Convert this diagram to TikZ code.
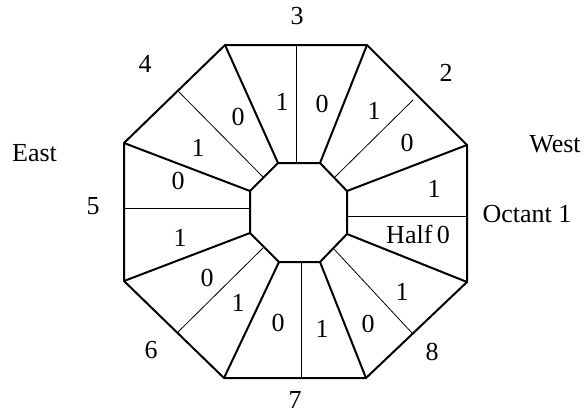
\documentclass[tikz,border=0pt]{standalone}
\usepackage{fontspec}
\setmainfont{Liberation Serif}
\begin{document}
\begin{tikzpicture}[x=1pt,y=-1pt,
  thickline/.style={line width=2pt,line join=miter},
  thinline/.style={line width=0.8pt},
  lbl/.style={inner sep=0pt,font=\fontsize{26}{29}\selectfont,text height=17.5pt,text depth=0pt}]
\useasboundingbox (0,0) rectangle (586,413);
% outer octagon vertices
\coordinate (TL) at (225,45);
\coordinate (TR) at (367,45);
\coordinate (RU) at (467,145);
\coordinate (RL) at (467,282);
\coordinate (BR) at (366,378);
\coordinate (BL) at (224,378);
\coordinate (LL) at (124,281);
\coordinate (LU) at (124,143);
% inner octagon vertices
\coordinate (iTL) at (278,163);
\coordinate (iTR) at (320,163);
\coordinate (iRU) at (347,191);
\coordinate (iRL) at (347,234);
\coordinate (iBR) at (320,262);
\coordinate (iBL) at (279,262);
\coordinate (iLL) at (250,233);
\coordinate (iLU) at (250,191);
% thin divider end points
\coordinate (oT) at (296,45);   \coordinate (nT) at (296,163);
\coordinate (oUL) at (179,92);  \coordinate (nUL) at (263,177);
\coordinate (oUR) at (413,100); \coordinate (nUR) at (335,177);
\coordinate (oL) at (124,208);  \coordinate (nL) at (250,208);
\coordinate (oR) at (467,216);  \coordinate (nR) at (347,216);
\coordinate (oLL) at (178,332); \coordinate (nLL) at (263,248);
\coordinate (oLR) at (412,333); \coordinate (nLR) at (333,248);
\coordinate (oB) at (301,378);  \coordinate (nB) at (301,262);
% thin dividers
\foreach \p in {T,UL,UR,L,R,LL,LR,B}
  \draw[thinline] (o\p) -- (n\p);
% spokes
\foreach \p in {TL,TR,RU,RL,BR,BL,LL,LU}
  \draw[thickline] (\p) -- (i\p);
% octagons
\draw[thickline] (TL) -- (TR) -- (RU) -- (RL) -- (BR) -- (BL) -- (LL) -- (LU) -- cycle;
\draw[thickline] (iTL) -- (iTR) -- (iRU) -- (iRL) -- (iBR) -- (iBL) -- (iLL) -- (iLU) -- cycle;
% outside labels
\node[lbl] (n3) at (297,16) {3};
\node[lbl] (n4) at (145,64) {4};
\node[lbl] (n2) at (446,73) {2};
\node[lbl] (east) at (34.5,152.5) {East};
\node[lbl] (west) at (555,144) {West};
\node[lbl] (n5) at (93,206) {5};
\node[lbl] (oct) at (527,214) {Octant 1};
\node[lbl] (half) at (418,235) {Half\,0};
\node[lbl] (n6) at (151,350) {6};
\node[lbl] (n7) at (295,400) {7};
\node[lbl] (n8) at (432,352) {8};
% sector labels
\node[lbl] (s1) at (282,102) {1};
\node[lbl] (s2) at (322,104) {0};
\node[lbl] (s3) at (238,117) {0};
\node[lbl] (s4) at (374,111) {1};
\node[lbl] (s5) at (198,148) {1};
\node[lbl] (s6) at (407,143) {0};
\node[lbl] (s7) at (178,181) {0};
\node[lbl] (s8) at (434,189) {1};
\node[lbl] (s9) at (180,238) {1};
\node[lbl] (s10) at (207,278) {0};
\node[lbl] (s11) at (238,303) {1};
\node[lbl] (s12) at (278,323) {0};
\node[lbl] (s13) at (322,329) {1};
\node[lbl] (s14) at (368,324) {0};
\node[lbl] (s15) at (402,292) {1};
\end{tikzpicture}
\end{document}
